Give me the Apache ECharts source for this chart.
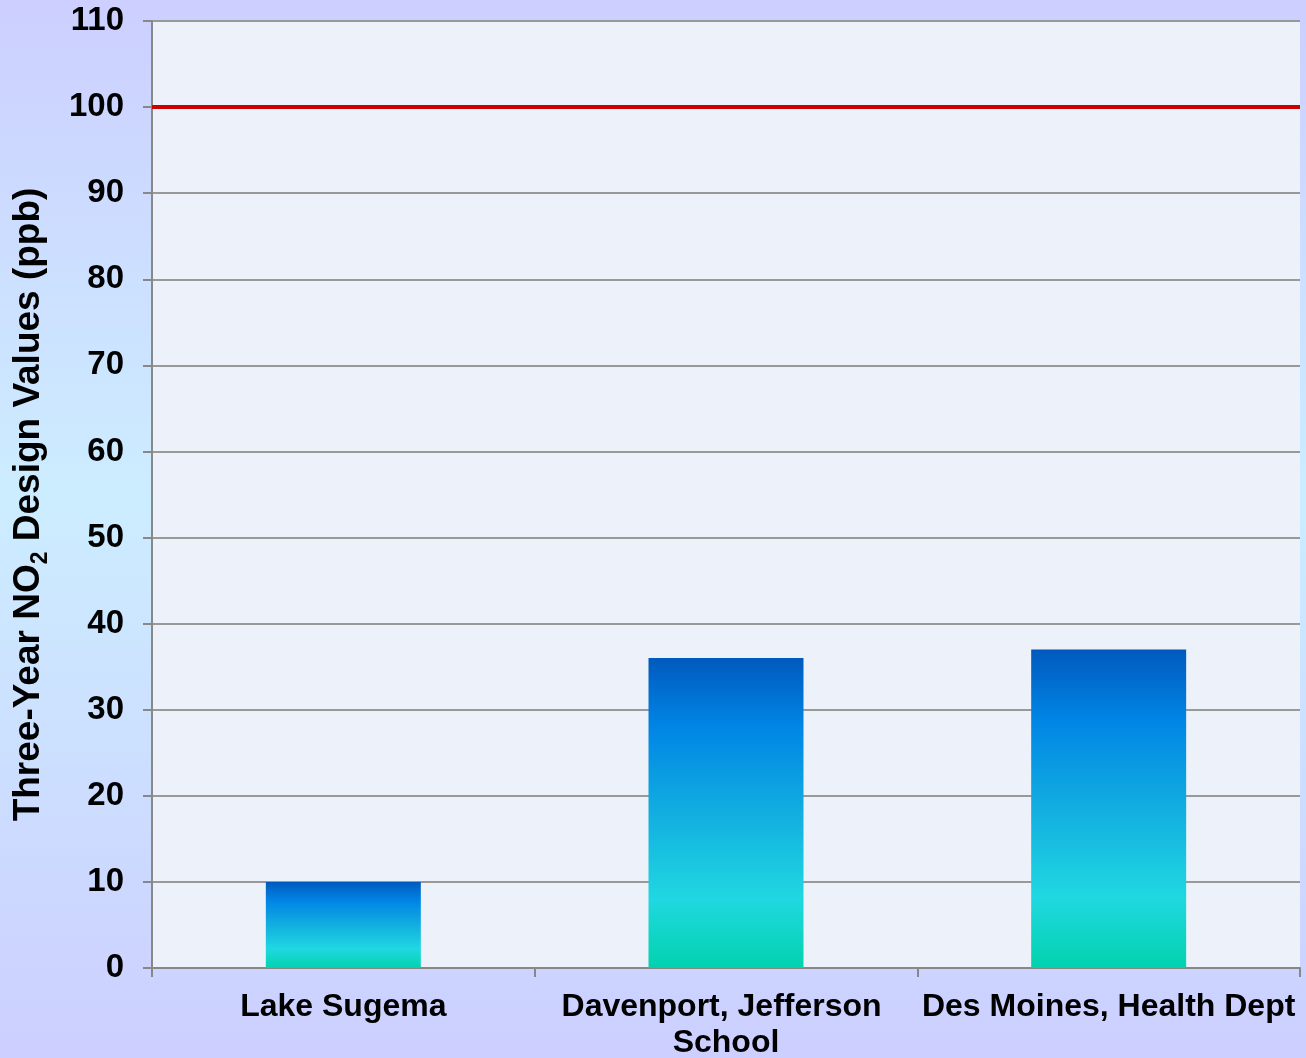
<!DOCTYPE html>
<html>
<head>
<meta charset="utf-8">
<script src="https://cdn.jsdelivr.net/npm/echarts@6/dist/echarts.min.js"></script>
<style>
html,body{margin:0;padding:0;width:100%;height:100%;overflow:hidden;}
#chart{width:1306px;height:1058px;}
</style>
</head>
<body>
<div id="chart"></div>
<script>
const categories = ['Lake Sugema', 'Davenport, Jefferson School', 'Des Moines, Health Dept'];
const designValues = [10, 36, 37];
const standardLevel = 100;
const yTicks = { min: 0, max: 110, interval: 10 };

const chart = echarts.init(document.getElementById('chart'));
const font = 'Liberation Sans, Arial, sans-serif';
chart.setOption({
  animation: false,
  backgroundColor: new echarts.graphic.LinearGradient(0, 0, 0, 1, [
    { offset: 0, color: '#CCCFFF' },
    { offset: 0.47, color: '#CCEDFF' },
    { offset: 1, color: '#CCCFFF' }
  ]),
  grid: {
    left: 152, right: 6, top: 21, bottom: 90,
    containLabel: false, outerBoundsMode: 'none',
    show: true, backgroundColor: '#EDF1F9', borderWidth: 0
  },
  xAxis: {
    type: 'category',
    data: categories,
    axisLine: { lineStyle: { color: '#888888', width: 2 } },
    axisTick: { show: true, length: 9, lineStyle: { color: '#888888', width: 2 } },
    axisLabel: {
      interval: 0,
      color: '#000', fontFamily: font, fontWeight: 'bold', fontSize: 32,
      margin: 21, width: 378, overflow: 'break', lineHeight: 36
    }
  },
  yAxis: {
    type: 'value',
    min: yTicks.min, max: yTicks.max, interval: yTicks.interval,
    name: '{a|Three-Year NO}{s|2}{a| Design Values (ppb)}',
    nameLocation: 'middle',
    nameRotate: 90,
    nameGap: 100,
    nameTextStyle: {
      padding: [0, 20, 0, 0],
      rich: {
        a: { fontFamily: font, fontWeight: 'bold', fontSize: 37, color: '#000', lineHeight: 46, verticalAlign: 'middle' },
        s: { fontFamily: font, fontWeight: 'bold', fontSize: 23, color: '#000', lineHeight: 26, verticalAlign: 'bottom' }
      }
    },
    axisLine: { show: true, lineStyle: { color: '#888888', width: 2 } },
    axisTick: { show: true, length: 9, lineStyle: { color: '#888888', width: 2 } },
    axisLabel: { color: '#000', fontFamily: font, fontWeight: 'bold', fontSize: 33, margin: 28 },
    splitLine: { show: true, lineStyle: { color: '#999999', width: 2 } }
  },
  series: [{
    type: 'bar',
    data: designValues,
    barWidth: '40.5%',
    itemStyle: {
      color: new echarts.graphic.LinearGradient(0, 0, 0, 1, [
        { offset: 0, color: '#005ABD' },
        { offset: 0.22, color: '#0085E5' },
        { offset: 0.5, color: '#12AEE0' },
        { offset: 0.78, color: '#20D8E0' },
        { offset: 1, color: '#02D2AE' }
      ])
    },
    markLine: {
      silent: true,
      symbol: 'none',
      label: { show: false },
      lineStyle: { color: '#CC0000', width: 4, type: 'solid' },
      data: [{ yAxis: standardLevel }]
    }
  }]
});
</script>
</body>
</html>
